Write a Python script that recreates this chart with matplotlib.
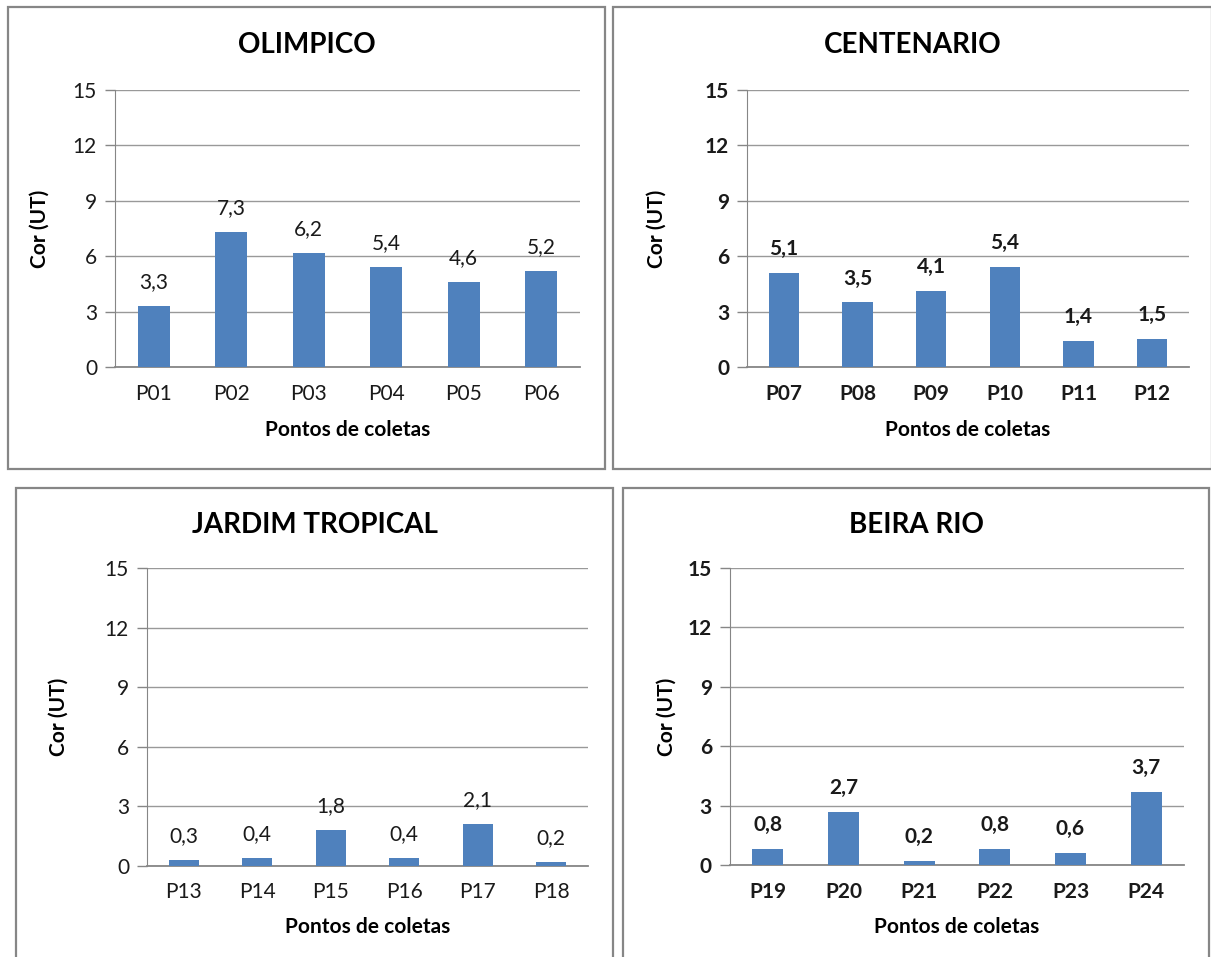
import matplotlib
matplotlib.use("Agg")
import matplotlib.pyplot as plt
from matplotlib.patches import Rectangle

plt.rcParams['font.family'] = ['Lato', 'DejaVu Sans']

W, H = 1211, 957

titles = ["OLIMPICO", "CENTENARIO", "JARDIM TROPICAL", "BEIRA RIO"]
points = [
    ["P01", "P02", "P03", "P04", "P05", "P06"],
    ["P07", "P08", "P09", "P10", "P11", "P12"],
    ["P13", "P14", "P15", "P16", "P17", "P18"],
    ["P19", "P20", "P21", "P22", "P23", "P24"],
]
cor = [
    [3.3, 7.3, 6.2, 5.4, 4.6, 5.2],
    [5.1, 3.5, 4.1, 5.4, 1.4, 1.5],
    [0.3, 0.4, 1.8, 0.4, 2.1, 0.2],
    [0.8, 2.7, 0.2, 0.8, 0.6, 3.7],
]
bold_ticks = [False, True, False, True]
y_ticks = [0, 3, 6, 9, 12, 15]

# pixel layout: panel box (x0, y0, x1, y1), plot area (left, top, right, bottom)
boxes = [(8, 7, 605, 469), (613, 7, 1212, 469), (16, 488, 613, 960), (623, 488, 1209, 960)]
plots = [(115, 90, 580, 367), (747, 90, 1189, 367), (147, 568, 588, 866), (730, 568, 1184, 865)]
title_y = [45, 45, 525, 525]
ylab_x = [40, 657, 59, 667]
xtick_y = [395, 395, 893, 893]
xlab_y = [430, 430, 927, 927]

fig = plt.figure(figsize=(W / 100, H / 100), dpi=100)
px = 72 / 100  # pixels -> points

for i in range(4):
    bx0, by0, bx1, by1 = boxes[i]
    fig.patches.append(Rectangle((bx0 / W, 1 - by1 / H), (bx1 - bx0) / W, (by1 - by0) / H,
                                 transform=fig.transFigure, fill=False,
                                 edgecolor='#868686', linewidth=1.6))
    L, T, R, B = plots[i]
    ax = fig.add_axes([L / W, 1 - B / H, (R - L) / W, (B - T) / H])
    x = range(len(points[i]))
    bars = ax.bar(x, cor[i], width=0.41, color='#4F81BD', zorder=3)
    ax.set_xlim(-0.5, len(points[i]) - 0.5)
    ax.set_ylim(0, 15)
    ax.set_yticks(y_ticks)
    wt = 'bold' if bold_ticks[i] else 'normal'
    ax.set_yticklabels([str(v) for v in y_ticks], fontsize=15, fontweight=wt, color='#1a1a1a')
    ax.set_xticks(list(x))
    ax.set_xticklabels(points[i], fontsize=15, fontweight=wt, color='#1a1a1a')
    ax.tick_params(axis='x', length=0, pad=(xtick_y[i] - B - 11) * px)
    ax.tick_params(axis='y', length=10 * px, width=1, color='#868686', pad=8 * px)
    ax.grid(axis='y', color='#999999', linewidth=1, zorder=0)
    for s in ['top', 'right']:
        ax.spines[s].set_visible(False)
    ax.spines['left'].set_color('#868686')
    ax.spines['bottom'].set_color('#868686')
    ax.spines['bottom'].set_linewidth(1.3)
    for b, v in zip(bars, cor[i]):
        ax.annotate(f"{v:.1f}".replace('.', ','), (b.get_x() + b.get_width() / 2, v),
                    xytext=(0, 10), textcoords='offset points', ha='center', va='bottom',
                    fontsize=15, fontweight=wt, color='#1a1a1a')
    cx = (L + R) / 2 / W
    fig.text((bx0 + bx1) / 2 / W, 1 - title_y[i] / H, titles[i],
             ha='center', va='center', fontsize=20, fontweight='bold', color='#000000')
    fig.text(ylab_x[i] / W, 1 - (T + B) / 2 / H, "Cor (UT)", rotation=90, ha='center',
             va='center', fontsize=15, fontweight='bold', color='#000000')
    fig.text(cx, 1 - xlab_y[i] / H, "Pontos de coletas", ha='center', va='center',
             fontsize=15, fontweight='bold', color='#000000')

fig.savefig("out.png", dpi=100, facecolor='white')
